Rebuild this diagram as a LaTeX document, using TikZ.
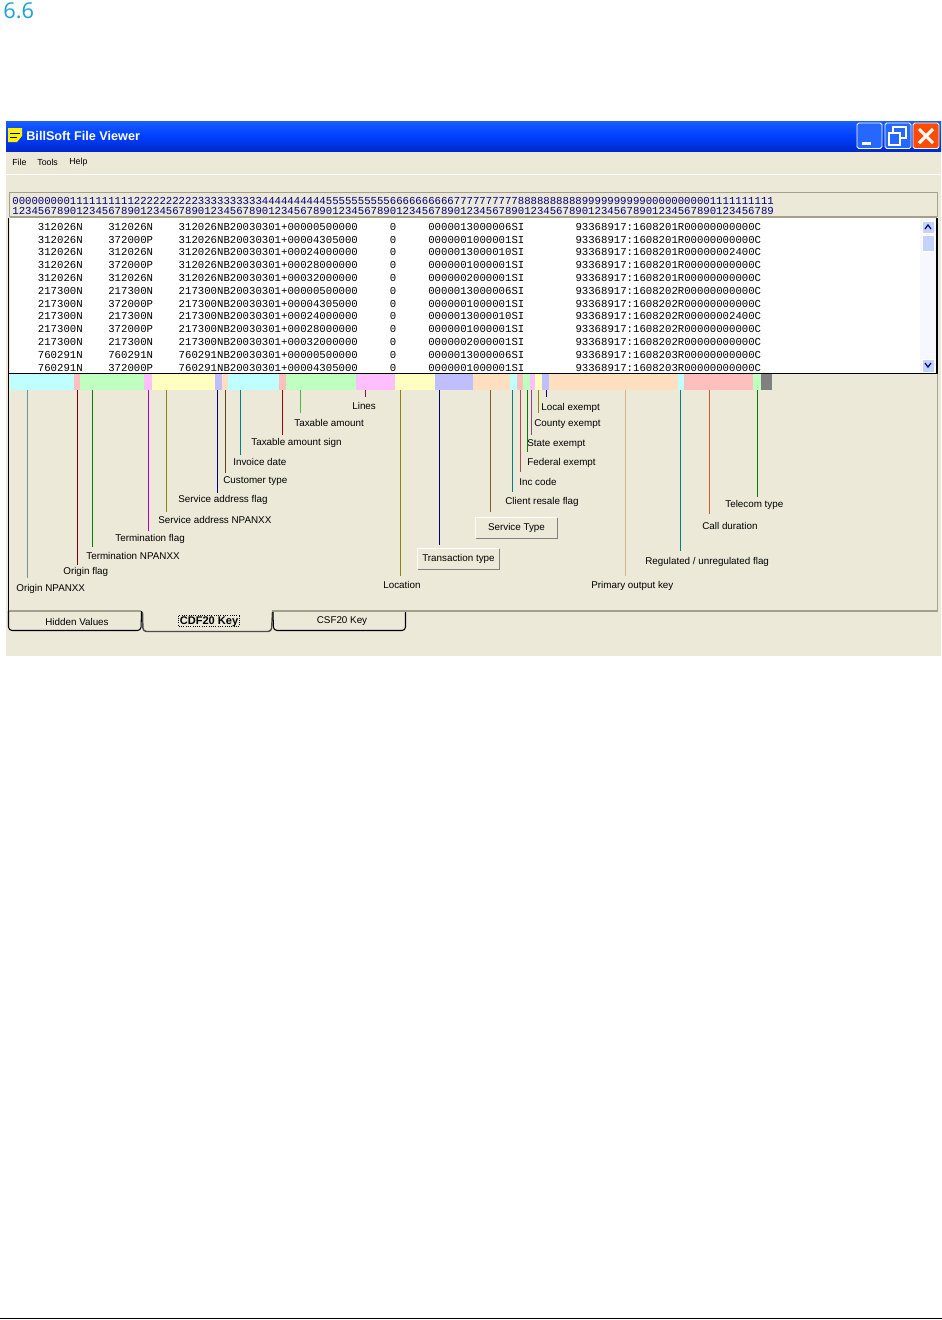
\documentclass[tikz,border=0pt]{standalone}
\usepackage{fontspec}
\setmainfont{Liberation Sans}
\setmonofont{Liberation Mono}
\newfontfamily\headfont{Open Sans}
\usepackage{tikz}
\usetikzlibrary{positioning}

\definecolor{barcyan}{HTML}{BFFFFF}
\definecolor{barpink}{HTML}{FFBFBF}
\definecolor{bargreen}{HTML}{BFFFBF}
\definecolor{barmagenta}{HTML}{FFBFFF}
\definecolor{baryellow}{HTML}{FFFFBF}
\definecolor{barblue}{HTML}{BFBFFF}
\definecolor{barpeach}{HTML}{FFDFBF}
\definecolor{wincream}{HTML}{ECE9D8}
\definecolor{winedge}{HTML}{A3A08E}
\definecolor{rulerblue}{HTML}{000080}
\definecolor{headblue}{HTML}{1BA1D8}
\definecolor{thumbblue}{HTML}{C3D3FA}

\tikzset{
	keylabel/.style={inner sep=0pt, anchor=west, font=\fontsize{5.6}{7}\selectfont},
	menulabel/.style={inner sep=0pt, anchor=west, font=\fontsize{5}{6}\selectfont},
	tablabel/.style={inner sep=0pt, font=\fontsize{5.6}{7}\selectfont},
	recline/.style={inner sep=0pt, anchor=west, font=\fontsize{6.07}{7}\ttfamily},
	keybutton/.style={fill=wincream, minimum width=81\pxu, minimum height=20\pxu, inner sep=0pt, font=\fontsize{5.6}{7}\selectfont},
	leader/.style={line width=0.5pt},
	winbutton/.style={draw=white, line width=0.5pt, rounded corners=1pt}
}
\newcommand{\pxu}{*0.02cm}
\newcommand{\recrow}[6]{~~~~#1~~~~#2~~~~#3~~~~~#4~~~~~#5~~~~~~~~#6}

\begin{document}
\begin{tikzpicture}[x=0.02cm, y=-0.02cm]
	\useasboundingbox (0,0) rectangle (942,1320);
	\fill[white] (0,0) rectangle (942,1320);

	% heading and page rule
	\node[inner sep=0pt, anchor=west, text=headblue, font=\fontsize{12.4}{14}\headfont] (Head) at (3,10.5) {6.6};
	\coordinate (RuleL) at (0,1318.5);
	\coordinate (RuleR) at (942,1318.5);
	\draw[line width=0.6pt] (RuleL) -- (RuleR);

	% window
	\fill[wincream] (6,151) rectangle (941,656);
	\shade[top color=blue!70!cyan!90!white, bottom color=blue!80!cyan!80!black, middle color=blue!75!cyan] (6,121) rectangle (941,151);
	\draw[white, line width=0.6pt] (6,174.5) -- (941,174.5);

	% title bar
	\fill[yellow] (8,128) -- (22,128) -- (22,136) -- (17,142) -- (8,142) -- cycle;
	\draw[black, line width=0.5pt] (10,133) -- (20,133);
	\draw[black, line width=0.5pt] (10,137) -- (17,137);
	\node[inner sep=0pt, anchor=west, text=white, font=\fontsize{7.2}{9}\bfseries] (Title) at (26,136) {BillSoft File Viewer};
	\filldraw[winbutton, fill=blue!70!cyan!85!white] (857,123) rectangle (882,148.5);
	\fill[white] (862,142) rectangle (871,144.5);
	\filldraw[winbutton, fill=blue!70!cyan!85!white] (885,123) rectangle (911,148.5);
	\draw[white, line width=0.9pt] (889,133) rectangle (900,145);
	\draw[white, line width=0.7pt] (893,132) -- (893,127) -- (906,127) -- (906,138) -- (901,138);
	\filldraw[winbutton, fill=orange!60!red] (913,123) rectangle (939,148.5);
	\draw[white, line width=1.8pt] (919,129) -- (933,143);
	\draw[white, line width=1.8pt] (933,129) -- (919,143);

	% menu
	\node[menulabel] (MenuFile) at (12,162) {File};
	\node[menulabel] (MenuTools) at (37,162) {Tools};
	\node[menulabel] (MenuHelp) at (69,162) {Help};

	% ruler
	\draw[winedge, line width=0.6pt] (9.5,192.5) rectangle (937.5,216.5);
	\node[recline, text=rulerblue] (Ruler1) at (12,201) {00000000011111111112222222222333333333344444444445555555555666666666677777777778888888888999999999900000000001111111111};
	\node[recline, text=rulerblue] (Ruler2) at (12,210.5) {12345678901234567890123456789012345678901234567890123456789012345678901234567890123456789012345678901234567890123456789};

	% record list
	\fill[white] (10,218) rectangle (920,373);
	\fill[blue!3!white] (920,218) rectangle (936,373);
	\filldraw[draw=white, fill=thumbblue] (922,221) rectangle (934,233);
	\filldraw[draw=white, fill=thumbblue] (922,235) rectangle (934,251);
	\filldraw[draw=white, fill=thumbblue] (922,359) rectangle (934,372);
	\draw[blue!50!black, line width=0.7pt] (925,229) -- (928,225) -- (931,229);
	\draw[blue!50!black, line width=0.7pt] (925,363) -- (928,367) -- (931,363);
	\draw[winedge, line width=0.8pt] (9.5,217.5) -- (936.5,217.5);
	\draw[black, line width=0.7pt] (8.5,218) -- (8.5,611);
	\draw[black, line width=0.7pt] (8.5,373.5) -- (937.5,373.5);
	\draw[black, line width=0.7pt] (937,218) -- (937,373.5);
	\draw[winedge, line width=0.9pt] (937.5,374) -- (937.5,611);
	\node[recline] (Rec1) at (12,226.7) {\recrow{312026N}{312026N}{312026NB20030301+00000500000}{0}{0000013000006SI}{93368917:1608201R00000000000C}};
	\node[recline] (Rec2) at (12,239.5) {\recrow{312026N}{372000P}{312026NB20030301+00004305000}{0}{0000001000001SI}{93368917:1608201R00000000000C}};
	\node[recline] (Rec3) at (12,252.3) {\recrow{312026N}{312026N}{312026NB20030301+00024000000}{0}{0000013000010SI}{93368917:1608201R00000002400C}};
	\node[recline] (Rec4) at (12,265.1) {\recrow{312026N}{372000P}{312026NB20030301+00028000000}{0}{0000001000001SI}{93368917:1608201R00000000000C}};
	\node[recline] (Rec5) at (12,277.9) {\recrow{312026N}{312026N}{312026NB20030301+00032000000}{0}{0000002000001SI}{93368917:1608201R00000000000C}};
	\node[recline] (Rec6) at (12,290.7) {\recrow{217300N}{217300N}{217300NB20030301+00000500000}{0}{0000013000006SI}{93368917:1608202R00000000000C}};
	\node[recline] (Rec7) at (12,303.5) {\recrow{217300N}{372000P}{217300NB20030301+00004305000}{0}{0000001000001SI}{93368917:1608202R00000000000C}};
	\node[recline] (Rec8) at (12,316.3) {\recrow{217300N}{217300N}{217300NB20030301+00024000000}{0}{0000013000010SI}{93368917:1608202R00000002400C}};
	\node[recline] (Rec9) at (12,329.1) {\recrow{217300N}{372000P}{217300NB20030301+00028000000}{0}{0000001000001SI}{93368917:1608202R00000000000C}};
	\node[recline] (Rec10) at (12,341.9) {\recrow{217300N}{217300N}{217300NB20030301+00032000000}{0}{0000002000001SI}{93368917:1608202R00000000000C}};
	\node[recline] (Rec11) at (12,354.7) {\recrow{760291N}{760291N}{760291NB20030301+00000500000}{0}{0000013000006SI}{93368917:1608203R00000000000C}};
	\node[recline] (Rec12) at (12,367.5) {\recrow{760291N}{372000P}{760291NB20030301+00004305000}{0}{0000001000001SI}{93368917:1608203R00000000000C}};

	% colour strip
	\fill[barcyan] (10,374) rectangle (74,390);
	\fill[barpink] (74,374) rectangle (80,390);
	\fill[bargreen] (80,374) rectangle (144,390);
	\fill[barmagenta] (144,374) rectangle (152,390);
	\fill[baryellow] (152,374) rectangle (215,390);
	\fill[barblue] (215,374) rectangle (222,390);
	\fill[barpeach] (222,374) rectangle (228,390);
	\fill[barcyan] (228,374) rectangle (279,390);
	\fill[barpink] (279,374) rectangle (286,390);
	\fill[bargreen] (286,374) rectangle (356,390);
	\fill[barmagenta] (356,374) rectangle (395,390);
	\fill[baryellow] (395,374) rectangle (435,390);
	\fill[barblue] (435,374) rectangle (473,390);
	\fill[barpeach] (473,374) rectangle (510,390);
	\fill[barcyan] (510,374) rectangle (517,390);
	\fill[barpink] (517,374) rectangle (523,390);
	\fill[bargreen] (523,374) rectangle (530,390);
	\fill[barmagenta] (530,374) rectangle (535,390);
	\fill[baryellow] (535,374) rectangle (542,390);
	\fill[barblue] (542,374) rectangle (549,390);
	\fill[barpeach] (549,374) rectangle (678,390);
	\fill[barcyan] (678,374) rectangle (684,390);
	\fill[barpink] (684,374) rectangle (753,390);
	\fill[bargreen] (753,374) rectangle (761,390);
	\fill[gray] (761,374) rectangle (772,390);

	% key labels
	\node[keylabel] (OriginNpa) at (16,589) {Origin NPANXX};
	\node[keylabel] (OriginFlag) at (63,572) {Origin flag};
	\node[keylabel] (TermNpa) at (86,556) {Termination NPANXX};
	\node[keylabel] (TermFlag) at (115,539) {Termination flag};
	\node[keylabel] (SvcNpa) at (158,520) {Service address NPANXX};
	\node[keylabel] (SvcFlag) at (178,500) {Service address flag};
	\node[keylabel] (CustType) at (223,481) {Customer type};
	\node[keylabel] (InvDate) at (233,462) {Invoice date};
	\node[keylabel] (TaxSign) at (251,443) {Taxable amount sign};
	\node[keylabel] (TaxAmt) at (294,423) {Taxable amount};
	\node[keylabel] (Lines) at (352,406) {Lines};
	\node[keylabel] (Location) at (383,585) {Location};
	\node[keybutton] (TransType) at (458.5,559) {Transaction type};
	\node[keybutton] (SvcType) at (516.5,528) {Service Type};
	\node[keylabel] (Resale) at (505,502) {Client resale flag};
	\node[keylabel] (IncCode) at (519,482) {Inc code};
	\node[keylabel] (FedEx) at (527,463) {Federal exempt};
	\node[keylabel] (StateEx) at (527,444) {State exempt};
	\node[keylabel] (CountyEx) at (534,424) {County exempt};
	\node[keylabel] (LocalEx) at (541,408) {Local exempt};
	\node[keylabel] (OutKey) at (591,586) {Primary output key};
	\node[keylabel] (RegFlag) at (645,562) {Regulated / unregulated flag};
	\node[keylabel] (CallDur) at (702,526) {Call duration};
	\node[keylabel] (TelType) at (725,505) {Telecom type};

	% button edges
	\draw[white, line width=0.6pt] (TransType.south west) -- (TransType.north west) -- (TransType.north east);
	\draw[gray, line width=0.6pt] (TransType.north east) -- (TransType.south east) -- (TransType.south west);
	\draw[white, line width=0.6pt] (SvcType.south west) -- (SvcType.north west) -- (SvcType.north east);
	\draw[gray, line width=0.6pt] (SvcType.north east) -- (SvcType.south east) -- (SvcType.south west);

	% leader ends
	\coordinate (A1) at (27.5,390);   \coordinate (B1) at (27.5,578);
	\coordinate (A2) at (77.5,390);   \coordinate (B2) at (77.5,565);
	\coordinate (A3) at (92.5,390);   \coordinate (B3) at (92.5,547);
	\coordinate (A4) at (148.5,390);  \coordinate (B4) at (148.5,531);
	\coordinate (A5) at (166.5,390);  \coordinate (B5) at (166.5,512);
	\coordinate (A6) at (217.5,390);  \coordinate (B6) at (217.5,493);
	\coordinate (A7) at (225.5,390);  \coordinate (B7) at (225.5,473);
	\coordinate (A8) at (240.5,390);  \coordinate (B8) at (240.5,455);
	\coordinate (A9) at (282.5,390);  \coordinate (B9) at (282.5,435);
	\coordinate (A10) at (300.5,390); \coordinate (B10) at (300.5,413);
	\coordinate (A11) at (365.5,390); \coordinate (B11) at (365.5,397);
	\coordinate (A12) at (400.5,390); \coordinate (B12) at (400.5,576);
	\coordinate (A13) at (439.5,390); \coordinate (B13) at (439.5,545);
	\coordinate (A14) at (490.5,390); \coordinate (B14) at (490.5,512);
	\coordinate (A15) at (512.5,390); \coordinate (B15) at (512.5,492);
	\coordinate (A16) at (520.5,390); \coordinate (B16) at (520.5,472);
	\coordinate (A17) at (527.5,390); \coordinate (B17) at (527.5,452);
	\coordinate (A18) at (531.5,390); \coordinate (B18) at (531.5,435);
	\coordinate (A19) at (538.5,390); \coordinate (B19) at (538.5,413);
	\coordinate (A20) at (546.5,390); \coordinate (B20) at (546.5,397);
	\coordinate (A21) at (625.5,390); \coordinate (B21) at (625.5,576);
	\coordinate (A22) at (680.5,390); \coordinate (B22) at (680.5,551);
	\coordinate (A23) at (709.5,390); \coordinate (B23) at (709.5,514);
	\coordinate (A24) at (757.5,390); \coordinate (B24) at (757.5,497);

	% leaders
	\draw[leader, teal!50!gray!80!white] (A1) -- (B1);
	\draw[leader, black!50!red] (A2) -- (B2);
	\draw[leader, green!50!black] (A3) -- (B3);
	\draw[leader, violet!60!magenta] (A4) -- (B4);
	\draw[leader, olive] (A5) -- (B5);
	\draw[leader, rulerblue] (A6) -- (B6);
	\draw[leader, brown!50!black] (A7) -- (B7);
	\draw[leader, teal] (A8) -- (B8);
	\draw[leader, red!65!black] (A9) -- (B9);
	\draw[leader, green!50!gray] (A10) -- (B10);
	\draw[leader, purple!50!violet] (A11) -- (B11);
	\draw[leader, olive] (A12) -- (B12);
	\draw[leader, rulerblue] (A13) -- (B13);
	\draw[leader, brown!70!black] (A14) -- (B14);
	\draw[leader, teal] (A15) -- (B15);
	\draw[leader, red!40!gray] (A16) -- (B16);
	\draw[leader, green!50!black] (A17) -- (B17);
	\draw[leader, violet!40!gray] (A18) -- (B18);
	\draw[leader, olive] (A19) -- (B19);
	\draw[leader, rulerblue] (A20) -- (B20);
	\draw[leader, brown!60!white] (A21) -- (B21);
	\draw[leader, teal] (A22) -- (B22);
	\draw[leader, red!30!brown] (A23) -- (B23);
	\draw[leader, green!50!black] (A24) -- (B24);

	% tabs
	\draw[winedge, line width=0.8pt] (8.5,611) -- (141,611);
	\draw[winedge, line width=0.8pt] (272,611) -- (937.5,611);
	\draw[black, line width=0.6pt, rounded corners=2pt] (8.5,611) -- (8.5,630.5) -- (141,630.5) -- (141.5,611);
	\draw[black!70, line width=0.8pt, rounded corners=2pt] (142.5,612) -- (143,631.5) -- (271.5,631.5) -- (272.5,612);
	\draw[black, line width=0.6pt, rounded corners=2pt] (273,612) -- (273.5,630.5) -- (405.5,630.5) -- (405.5,612);
	\node[tablabel] (TabHidden) at (77,621.5) {Hidden Values};
	\node[tablabel, font=\fontsize{6.3}{7}\bfseries] (TabCdf) at (209,621.5) {CDF20 Key};
	\node[tablabel] (TabCsf) at (342,621.5) {CSF20 Key};
	\draw[line width=0.3pt, densely dotted] (178.5,615.5) rectangle (239,626.5);
\end{tikzpicture}
\end{document}
